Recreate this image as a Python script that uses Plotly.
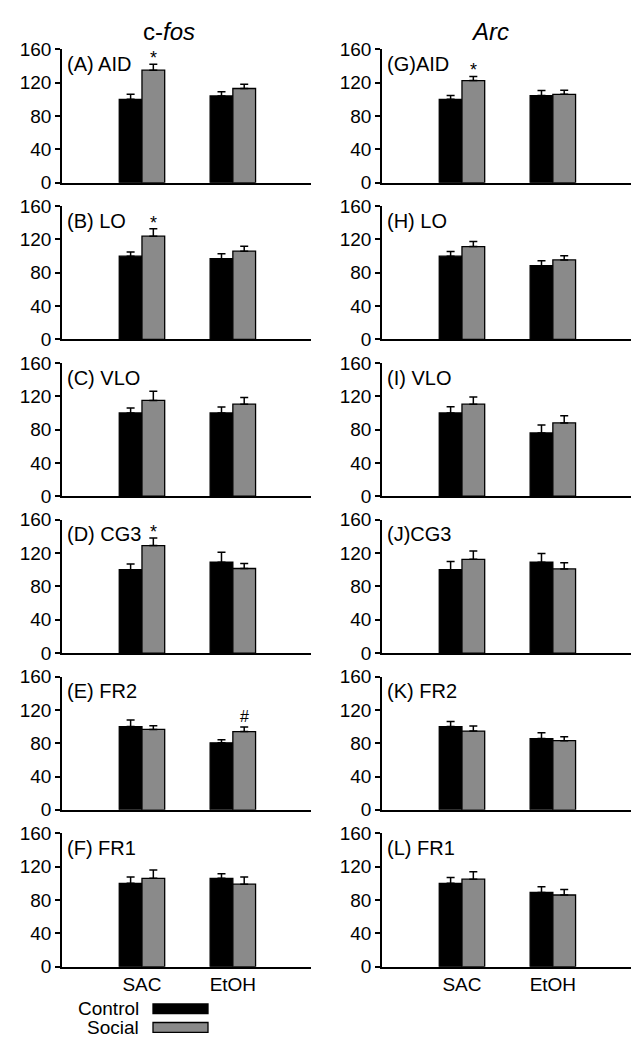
import plotly.graph_objects as go

# ---------------- data ----------------
conditions = ["SAC", "EtOH"]
groups = ["Control", "Social"]
y_ticks = [0, 40, 80, 120, 160]

fos_labels = ["(A) AID", "(B) LO", "(C) VLO", "(D) CG3", "(E) FR2", "(F) FR1"]
arc_labels = ["(G)AID", "(H) LO", "(I) VLO", "(J)CG3", "(K) FR2", "(L) FR1"]

# values per region: [SAC, EtOH]
fos_control = [[100, 104], [100, 97], [100, 100], [100, 109], [100, 80.5], [100, 106]]
fos_control_err = [[6, 5], [5, 6], [6, 7], [7, 12], [8, 3.5], [7.5, 5.5]]
fos_social = [[135, 113], [124, 106], [115, 110.5], [129, 101.5], [96.5, 94], [106, 99]]
fos_social_err = [[7, 5], [9, 6], [11, 8], [9, 6], [4.5, 5.5], [10, 8.5]]
fos_marks = [["*", ""], ["*", ""], ["", ""], ["*", ""], ["", "#"], ["", ""]]

arc_control = [[100, 104.5], [100, 88.5], [100, 76], [100, 109], [100, 85.5], [100, 89]]
arc_control_err = [[4.5, 6], [5.5, 6], [7.5, 9.5], [10, 10.5], [6, 7], [7, 7]]
arc_social = [[122.5, 106], [111.5, 95.5], [110.5, 88], [112.5, 101], [94.5, 83], [105, 86]]
arc_social_err = [[5, 5], [6, 5], [8.5, 8.5], [10, 7.5], [6, 4.7], [9, 6.5]]
arc_marks = [["*", ""], ["", ""], ["", ""], ["", ""], ["", ""], ["", ""]]

# ---------------- style / layout ----------------
FONT = "Liberation Sans, Arial, Helvetica, sans-serif"
W, H = 641, 1050
col_x0 = [54, 374]
col_x1 = [303, 623]
row_bottom = [168, 328, 488, 648, 808, 968]
panel_h = 136
colors = {"Control": "#000000", "Social": "#8a8a8a"}
bar_w = 0.25
offsets = {"Control": -0.25, "Social": 0.0}

fig = go.Figure()
layout = dict(
    width=W, height=H,
    margin=dict(l=0, r=0, t=0, b=0),
    paper_bgcolor="white", plot_bgcolor="white",
    showlegend=False,
    font=dict(family=FONT, size=18, color="black"),
    annotations=[], shapes=[],
)

genes = [
    (fos_labels, fos_control, fos_control_err, fos_social, fos_social_err, fos_marks),
    (arc_labels, arc_control, arc_control_err, arc_social, arc_social_err, arc_marks),
]

k = 0
for col, (labels, ctl, ctl_e, soc, soc_e, marks) in enumerate(genes):
    for row in range(6):
        k += 1
        xa = "x" if k == 1 else f"x{k}"
        ya = "y" if k == 1 else f"y{k}"
        xkey = "xaxis" if k == 1 else f"xaxis{k}"
        ykey = "yaxis" if k == 1 else f"yaxis{k}"
        xpos = list(range(len(conditions)))
        for g, vals, errs in [("Control", ctl[row], ctl_e[row]), ("Social", soc[row], soc_e[row])]:
            fig.add_trace(go.Bar(
                x=xpos, y=vals, name=g, width=bar_w, offset=offsets[g],
                marker=dict(color=colors[g], line=dict(color="black", width=1.3)),
                error_y=dict(type="data", symmetric=False, array=errs,
                             arrayminus=[0] * len(errs), color="black",
                             thickness=1.5, width=4),
                xaxis=xa, yaxis=ya, showlegend=False,
            ))
        bottom = row == 5
        layout[xkey] = dict(
            domain=[col_x0[col] / W, col_x1[col] / W],
            range=[-0.88, 1.86], anchor=ya,
            tickvals=xpos, ticktext=conditions,
            showticklabels=bottom, ticks="",
            showline=True, linecolor="black", linewidth=1.6,
            showgrid=False, zeroline=False, fixedrange=True,
            tickfont=dict(size=19),
        )
        yb = row_bottom[row]
        layout[ykey] = dict(
            domain=[1 - yb / H, 1 - (yb - panel_h) / H],
            range=[0, 160], anchor=xa,
            tickvals=y_ticks, ticks="outside", ticklen=5, tickwidth=1.5,
            tickcolor="black",
            showline=True, linecolor="black", linewidth=1.6,
            showgrid=False, zeroline=False, fixedrange=True,
            tickfont=dict(size=19),
        )
        # panel label
        layout["annotations"].append(dict(
            text=labels[row], xref=f"{xa} domain", yref=f"{ya} domain",
            x=0.012, y=1 - 15 / panel_h, xanchor="left", yanchor="middle",
            showarrow=False, font=dict(size=20),
        ))
        # significance marks
        for i, m in enumerate(marks[row]):
            if m:
                layout["annotations"].append(dict(
                    text=m, xref=xa, yref=ya,
                    x=xpos[i] + offsets["Social"] + bar_w / 2,
                    y=soc[row][i] + soc_e[row][i],
                    xanchor="center", yanchor="middle",
                    yshift=6 if m == "*" else 10,
                    showarrow=False, font=dict(size=18 if m == "*" else 16),
                ))

# column titles
layout["annotations"].append(dict(
    text="c-<i>fos</i>", xref="paper", yref="paper", x=161 / W, y=1 - 14 / H,
    xanchor="center", yanchor="middle", showarrow=False, font=dict(size=24)))
layout["annotations"].append(dict(
    text="<i>Arc</i>", xref="paper", yref="paper", x=482 / W, y=1 - 14 / H,
    xanchor="center", yanchor="middle", showarrow=False, font=dict(size=24)))

# legend (text left of swatch)
legend_y = [1011, 1030]
for g, ly in zip(groups, legend_y):
    layout["annotations"].append(dict(
        text=g, xref="paper", yref="paper", x=133 / W, y=1 - ly / H,
        xanchor="right", yanchor="middle", showarrow=False, font=dict(size=19)))
    layout["shapes"].append(dict(
        type="rect", xref="paper", yref="paper",
        x0=145 / W, x1=200 / W, y0=1 - (ly + 5) / H, y1=1 - (ly - 5) / H,
        fillcolor=colors[g], line=dict(color="black", width=1.3)))

fig.update_layout(**layout)
fig.write_html("out.html")
